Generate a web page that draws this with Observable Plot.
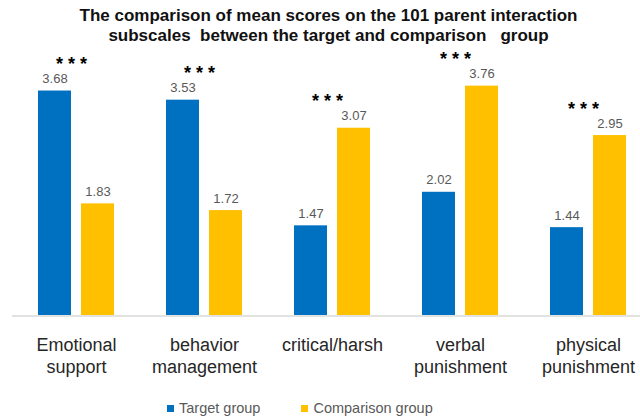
<!DOCTYPE html>
<html><head><meta charset="utf-8">
<script src="https://cdn.jsdelivr.net/npm/d3@7"></script>
<script src="https://cdn.jsdelivr.net/npm/@observablehq/plot@0.6"></script>
<style>
body{margin:0;background:#fff;font-family:"Liberation Sans",Arial,sans-serif;}
#wrap{width:640px;height:419px;overflow:hidden;background:#fff;}
#title{height:46px;box-sizing:border-box;padding-top:5.5px;padding-left:17px;text-align:center;font-weight:bold;font-size:17px;line-height:20px;color:#111;white-space:pre;}
#legend{height:21px;display:flex;align-items:center;padding-left:167px;font-size:14.5px;line-height:19px;color:#595959;}
#legend .sw{width:6.5px;height:6.5px;margin-right:5.5px;flex:none;}
#legend .item{display:flex;align-items:center;margin-right:41px;}
#chart svg{display:block;}
</style></head><body>
<div id="wrap"><div id="title"></div><div id="chart"></div><div id="legend"></div></div>
<script>
const titleLines = [
  "The comparison of mean scores on the 101 parent interaction",
  "subscales  between the target and comparison   group"
];
const categories = ["Emotional support", "behavior management", "critical/harsh", "verbal punishment", "physical punishment"];
const tickLabels = ["Emotional\nsupport", "behavior\nmanagement", "critical/harsh", "verbal\npunishment", "physical\npunishment"];
const groups = ["Target group", "Comparison group"];
const targetScores = [3.68, 3.53, 1.47, 2.02, 1.44];
const comparisonScores = [1.83, 1.72, 3.07, 3.76, 2.95];
const significance = ["***", "***", "***", "***", "***"];
const colors = ["#0070C0", "#FFC000"];

document.getElementById("title").textContent = titleLines.join("\n");

const data = categories.flatMap((c, i) => [
  {category: c, group: groups[0], value: targetScores[i]},
  {category: c, group: groups[1], value: comparisonScores[i]}
]);
const stars = categories.map((c, i) => ({
  category: c,
  value: Math.max(targetScores[i], comparisonScores[i]),
  mark: significance[i].split("").join(" ")
}));

const chart = Plot.plot({
  width: 640, height: 352,
  marginTop: 25, marginBottom: 83, marginLeft: 0, marginRight: 0,
  style: {fontFamily: "Liberation Sans, Arial, sans-serif", background: "#fff", overflow: "hidden"},
  fx: {domain: categories, range: [12, 652], padding: 0, label: null},
  x: {domain: groups, range: [0, 128], paddingInner: 0.23, paddingOuter: 0.6, axis: null},
  y: {domain: [0, 4], axis: null},
  color: {domain: groups, range: colors},
  marks: [
    Plot.barY(data, {fx: "category", x: "group", y: "value", fill: "group"}),
    Plot.ruleY([0], {stroke: "#d9d9d9", strokeWidth: 1.5, dy: 0.5}),
    Plot.text(data, {fx: "category", x: "group", y: "value", text: d => d.value.toFixed(2), lineAnchor: "bottom", dy: -8, fontSize: 13, fill: "#595959"}),
    Plot.text(stars, {fx: "category", y: "value", text: "mark", lineAnchor: "bottom", dx: -5, dy: -21, fontSize: 18, fontWeight: "bold", fill: "#000"}),
    Plot.axisFx({anchor: "bottom", tickSize: 0, tickPadding: 21, fontSize: 18, lineHeight: 1.17, color: "#262626", tickFormat: c => tickLabels[categories.indexOf(c)], label: null})
  ]
});
document.getElementById("chart").appendChild(chart);

const cs = chart.scale("color");
const legend = document.getElementById("legend");
cs.domain.forEach((g, i) => {
  const item = document.createElement("div");
  item.className = "item";
  const sw = document.createElement("div");
  sw.className = "sw";
  sw.style.background = cs.range[i];
  const t = document.createElement("span");
  t.textContent = g;
  item.appendChild(sw);
  item.appendChild(t);
  legend.appendChild(item);
});
</script>
</body></html>
